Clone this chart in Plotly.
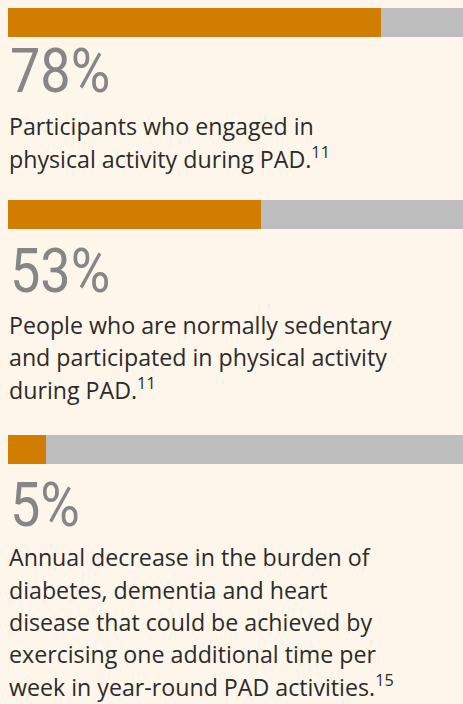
import plotly.graph_objects as go

# ---------------- data ----------------
value_labels = ["78%", "53%", "5%"]
bar_fill = [78, 53, 8]          # orange length as drawn in the picture
bar_track = [100, 100, 100]     # grey track
descriptions = [
    ["Participants who engaged in",
     "physical activity during PAD.<sup>11</sup>"],
    ["People who are normally sedentary",
     "and participated in physical activity",
     "during PAD.<sup>11</sup>"],
    ["Annual decrease in the burden of",
     "diabetes, dementia and heart",
     "disease that could be achieved by",
     "exercising one additional time per",
     "week in year-round PAD activities.<sup>15</sup>"],
]

# ---------------- layout constants (pixels) ----------------
W, H = 463, 704
BG = "#FEF6EA"
ORANGE = "#D17D00"
GREY = "#BDBDBD"
NUM_COLOR = "#868686"
TXT_COLOR = "#2B2B2B"

bar_top = [8, 200, 435]
bar_h = 29
num_base = [95, 295, 529]
desc_base = [136.5, 335, 567.5]
line_step = 32.4
left_px = 8
x_max = 95.15

NUM_FONT = "Roboto, Liberation Sans, Arial, sans-serif"
NUM_WEIGHT = 400
NUM_SIZE = 61
NUM_SQUEEZE = 0.885  # narrow (condensed) look of the big figures
TXT_FONT = "Open Sans, Noto Sans, sans-serif"
TXT_SIZE = 23.2


def py(p):
    return 1 - p / H


def px(p):
    return p / W


fig = go.Figure()
layout = dict(
    width=W, height=H,
    margin=dict(l=0, r=0, t=0, b=0),
    paper_bgcolor=BG, plot_bgcolor=BG,
    showlegend=False, barmode="overlay", bargap=0,
)
annotations = []

for i in range(3):
    sfx = "" if i == 0 else str(i + 1)
    xa, ya = "x" + sfx, "y" + sfx
    fig.add_trace(go.Bar(x=[bar_track[i]], y=[0], orientation="h", width=1,
                         marker=dict(color=GREY, line=dict(width=0)),
                         xaxis=xa, yaxis=ya, hoverinfo="skip"))
    fig.add_trace(go.Bar(x=[bar_fill[i]], y=[0], orientation="h", width=1,
                         marker=dict(color=ORANGE, line=dict(width=0)),
                         xaxis=xa, yaxis=ya, hoverinfo="skip"))
    layout["xaxis" + sfx] = dict(domain=[px(left_px), 1], range=[0, x_max],
                                 visible=False, fixedrange=True, anchor=ya)
    layout["yaxis" + sfx] = dict(domain=[py(bar_top[i] + bar_h), py(bar_top[i])],
                                 range=[-0.5, 0.5], visible=False,
                                 fixedrange=True, anchor=xa)

    annotations.append(dict(
        text=value_labels[i], xref="paper", yref="paper",
        x=px(left_px), y=py(num_base[i] + 0.211 * NUM_SIZE + 1),
        xanchor="left", yanchor="bottom", showarrow=False, align="left",
        font=dict(family=NUM_FONT, size=NUM_SIZE, color=NUM_COLOR,
                  weight=NUM_WEIGHT)))

    for j, line in enumerate(descriptions[i]):
        b = desc_base[i] + j * line_step
        annotations.append(dict(
            text=line, xref="paper", yref="paper",
            x=px(left_px - 1), y=py(b + 0.293 * TXT_SIZE + 1),
            xanchor="left", yanchor="bottom", showarrow=False, align="left",
            font=dict(family=TXT_FONT, size=TXT_SIZE, color=TXT_COLOR)))

layout["annotations"] = annotations
fig.update_layout(**layout)

post = (
    "document.body.style.margin='0';"
    "document.body.style.overflow='hidden';"
    "document.querySelectorAll('text.annotation-text').forEach(function(t){"
    "  if(/%$/.test(t.textContent)){"
    "    var w=t.getComputedTextLength();"
    "    t.setAttribute('lengthAdjust','spacingAndGlyphs');"
    "    t.setAttribute('textLength',(w*" + str(NUM_SQUEEZE) + ").toFixed(2));"
    "  }"
    "});"
)
fig.write_html("out.html", config={"displayModeBar": False}, post_script=post)
